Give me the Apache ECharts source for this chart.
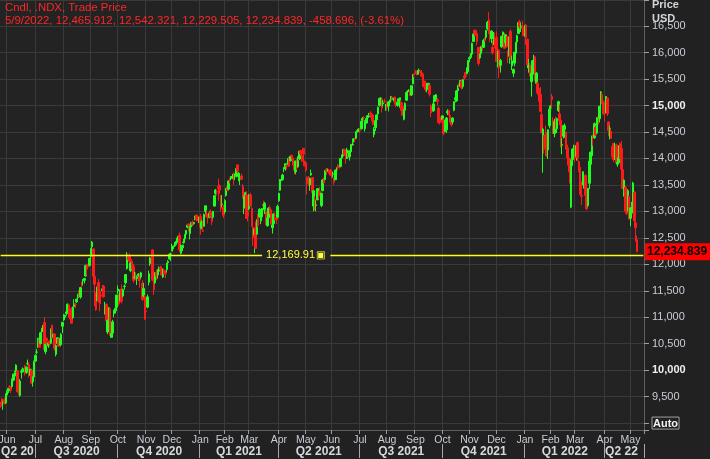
<!DOCTYPE html>
<html><head><meta charset="utf-8">
<script src="https://cdn.jsdelivr.net/npm/echarts@6/dist/echarts.min.js"></script>
<style>html,body{margin:0;padding:0;background:#222;}#c{width:710px;height:459px;}</style>
</head><body><div id="c"></div>
<script>
// ---- data (NDX daily candles, rows are [open, high, low, close]) ----
const firstDay = '2020-05-22', lastDay = '2022-05-09';
const holidays = ['2020-05-25','2020-07-03','2020-09-07','2020-11-26','2020-12-25','2021-01-01','2021-01-18','2021-02-15','2021-04-02','2021-05-31','2021-07-05','2021-09-06','2021-11-25','2021-12-24','2022-01-17','2022-02-21','2022-04-15'];

const q2_2020 = [
[9370,9400,9290,9325],[9460,9475,9320,9340],[9390,9420,9250,9412],[9440,9480,9350,9369],[9380,9560,9360,9555],
[9530,9620,9520,9598],[9610,9655,9570,9653],[9690,9720,9640,9683],[9680,9700,9570,9616],[9690,9845,9670,9824],
[9810,9930,9790,9925],[9890,9990,9880,9953],[9990,10110,9960,10094],[9980,10000,9580,9588],[9800,9840,9520,9681],
[9520,9830,9500,9794],[9960,10000,9840,9980],[10010,10050,9985,10021],[10000,10030,9960,10012],[10080,10100,9900,9946],
[9960,10070,9930,10057],[10120,10200,10090,10131],[10110,10150,9860,9910],[9900,10020,9830,10017],[10000,10010,9740,9757],
[9780,9880,9690,9875],[9870,10180,9860,10157]];

const q3_2020 = [
[10170,10300,10160,10279],[10340,10400,10300,10341],[10440,10610,10420,10604],[10580,10620,10430,10434],[10500,10710,10490,10706],
[10760,10800,10650,10788],[10760,10850,10720,10847],[10900,11000,10380,10391],[10350,10500,10300,10488],[10600,10620,10460,10551],
[10460,10540,10420,10518],[10550,10570,10460,10503],[10510,10790,10490,10768],[10850,10860,10600,10622],[10620,10690,10570,10674],
[10680,10700,10370,10408],[10300,10480,10260,10462],[10500,10620,10490,10612],[10590,10600,10440,10451],[10480,10610,10470,10584],
[10480,10700,10450,10678],[10830,10910,10700,10905],
[10950,11060,10930,11019],[11000,11050,10960,11036],[11070,11110,11030,11100],[11090,11260,11070,11245],[11230,11250,10990,11128],
[11160,11170,10960,11085],[11140,11190,10870,10887],[10990,11200,10970,11190],[11200,11340,11190,11252],[11240,11270,11170,11235],
[11290,11350,11270,11341],[11370,11440,11330,11437],[11450,11510,11380,11413],[11380,11570,11350,11561],[11610,11670,11560,11607],
[11690,11720,11600,11699],[11700,11740,11640,11730],[11780,11990,11770,11975],[12000,12010,11790,11939],[11980,12000,11900,11946],
[11980,12120,11960,12110],
[12150,12300,12090,12292],[12330,12440,12180,12420],[12290,12300,11690,11771],[11770,11880,11210,11623],[11350,11470,11120,11140],
[11320,11580,11300,11556],[11660,11720,11270,11325],[11410,11430,11110,11258],[11420,11500,11360,11394],[11500,11600,11440,11536],
[11590,11610,11370,11385],[11120,11290,11050,11247],[11240,11260,10870,10937],[10720,10950,10680,10939],[11000,11190,10940,11180],
[11160,11180,10650,10660],[10620,10800,10620,10690],[10700,10950,10660,10913],[11070,11140,11000,11118],[11120,11190,11070,11167],
[11190,11420,11150,11418]];

const q4_2020 = [
[11500,11600,11440,11533],[11330,11440,11220,11256],[11310,11530,11300,11518],[11530,11620,11260,11304],[11400,11540,11380,11520],
[11580,11620,11520,11588],[11650,11810,11620,11807],[11920,12230,11900,12166],[12170,12200,12080,12160],[12170,12210,11990,12054],
[11880,12040,11850,12022],[12060,12100,11900,11913],[11960,12000,11650,11695],[11750,11860,11720,11762],[11750,11850,11700,11724],
[11730,11790,11610,11767],[11790,11830,11690,11816],[11760,11830,11560,11701],[11760,11860,11730,11838],[11640,11700,11310,11335],
[11400,11650,11380,11543],[11380,11420,10950,11032],
[11120,11200,10960,11110],[11190,11430,11170,11385],[11660,11880,11600,11822],[12010,12140,11970,12109],[12080,12150,11950,12118],
[12270,12290,11680,11700],[11650,11700,11420,11517],[11650,11850,11630,11835],[11850,11900,11700,11774],[11800,11910,11730,11895],
[11870,11960,11830,11934],[11930,11970,11860,11901],[11910,11960,11790,11796],[11760,11920,11740,11902],[11890,11920,11810,11815],
[11860,11890,11740,11825],[11900,12030,11850,11998],[12030,12080,11990,12054],[12100,12200,12090,12191],[12190,12220,12060,12195],
[12280,12390,12250,12330],[12290,12350,12240,12340],[12350,12420,12330,12350],[12370,12440,12350,12420],[12410,12500,12390,12490],
[12450,12540,12420,12530],[12550,12600,12230,12270],[12210,12370,12190,12350],[12310,12370,12250,12360],[12410,12480,12390,12420],
[12480,12570,12420,12560],[12570,12650,12540,12640],[12700,12750,12680,12740],[12760,12770,12620,12730],[12580,12730,12470,12720],
[12730,12800,12700,12790],[12800,12830,12740,12750],[12770,12800,12750,12790],[12870,12920,12830,12880],[12930,12950,12810,12840],
[12870,12890,12820,12830],[12830,12900,12780,12870]];

const q1_2021 = [
[12910,12950,12560,12694],[12680,12840,12660,12802],[12640,12820,12610,12623],[12720,12960,12710,12939],[13000,13110,12910,13105],
[12950,13020,12880,12902],[12920,12950,12770,12880],[12890,13010,12870,12970],[12990,13040,12900,12902],[12870,12920,12740,12803],
[12890,13010,12860,12999],[13100,13310,13090,13297],[13340,13420,13310,13404],[13370,13410,13300,13366],[13470,13620,13200,13436],
[13480,13510,13330,13404],[13300,13310,13000,13050],[13130,13310,13080,13138],[13080,13120,12870,12925],
[12990,13230,12960,13204],[13300,13440,13280,13404],[13470,13500,13380,13396],[13420,13580,13400,13576],[13620,13640,13530,13592],
[13640,13670,13590,13653],[13620,13710,13620,13660],[13720,13730,13500,13614],[13680,13710,13590,13691],[13660,13810,13640,13808],
[13880,13880,13720,13762],[13620,13740,13570,13722],[13610,13660,13500,13612],[13670,13710,13590,13606],[13470,13520,13240,13249],
[13060,13300,12950,13282],[13200,13370,13100,13352],[13310,13380,12860,12866],[12990,13090,12810,12909],
[13050,13320,13020,13316],[13310,13350,13100,13101],[13060,13080,12720,12720],[12700,12790,12350,12501],[12560,12690,12210,12669],
[12690,12810,12290,12300],[12570,12850,12560,12792],[12920,12960,12700,12734],[12900,13060,12880,13040],[12820,12920,12760,12916],
[12900,13060,12850,13053],[13130,13200,13050,13099],[13030,13180,12950,13151],[13000,13030,12740,12751],[12730,12920,12710,12874],
[12880,13080,12860,13059],[13070,13110,12950,12972],[13030,13050,12750,12756],[12690,12790,12580,12742],[12770,12960,12720,12952],
[12930,12980,12830,12926],[12880,12890,12760,12843],[12890,13130,12880,13092]];

const q2_2021 = [
[13200,13350,13180,13342],[13400,13610,13390,13598],[13590,13650,13580,13599],[13600,13710,13590,13688],[13800,13830,13740,13829],
[13810,13900,13770,13900],[13860,13890,13790,13850],[13890,14000,13880,13996],[14010,14030,13840,13857],[13960,14050,13940,14041],
[14060,14070,13980,14042],[14010,14040,13870,13915],[13930,13940,13700,13786],[13750,13960,13700,13950],[13940,14000,13780,13818],
[13840,14040,13830,13964],[13990,14140,13970,14138],[14150,14160,14050,14090],[14060,14110,13930,13950],[14190,14200,13900,14082],
[13940,13960,13850,13860],
[13920,13930,13740,13778],[13650,13660,13320,13544],[13630,13670,13480,13518],[13500,13640,13390,13622],[13690,13790,13670,13719],
[13640,13650,13350,13358],[13100,13400,13000,13389],[13230,13280,13020,13032],[13110,13210,13000,13124],[13220,13440,13210,13430],
[13350,13380,13230,13335],[13380,13460,13290,13299],[13110,13350,13080,13342],[13390,13610,13380,13593],[13630,13640,13530,13536],
[13600,13780,13590,13761],[13800,13820,13690,13756],[13780,13810,13750,13792],[13780,13800,13710,13742],[13780,13800,13680,13687],
[13750,13760,13620,13682],[13700,13750,13640,13712],[13610,13640,13500,13551],[13600,13790,13590,13780],[13780,13830,13730,13823],
[13870,13890,13780,13838],[13860,13890,13810,13828],[13850,14010,13850,13999],[14010,14070,13980,14069],[14060,14180,14040,14172],
[14170,14180,14050,14072],[14070,14110,13900,14040],[14000,14200,13990,14161],[14100,14160,14020,14031],[14030,14150,13960,14141],
[14130,14270,14100,14253],[14260,14310,14240,14272],[14320,14380,14300,14370],[14380,14390,14310,14360],[14380,14510,14370,14500],
[14510,14550,14490,14528],[14530,14570,14510,14554]];

const q3_2021 = [
[14540,14560,14480,14522],[14560,14710,14550,14705],[14720,14780,14620,14757],[14780,14800,14710,14774],[14560,14720,14510,14675],
[14670,14770,14660,14756],[14770,14820,14740,14806],[14790,14860,14780,14804],[14860,14890,14790,14840],[14840,14850,14700,14777],
[14820,14830,14630,14643],[14450,14590,14400,14555],[14580,14760,14520,14716],[14730,14830,14700,14822],[14840,14980,14830,14967],
[15000,15140,14980,15135],[15110,15160,15070,15141],[15120,15130,14870,14959],[15030,15100,14980,15050],[15080,15130,15040,15075],
[14930,15030,14900,14959],
[15020,15060,14930,14961],[14990,15070,14890,15070],[15060,15110,15040,15079],[15100,15180,15070,15173],[15160,15170,15080,15111],
[15120,15150,15080,15126],[15160,15170,15020,15042],[15070,15080,14970,15004],[15000,15070,14980,15064],[15080,15130,15070,15126],
[15100,15150,14960,15147],[15070,15080,14900,14985],[14980,15050,14810,14815],[14740,14930,14720,14895],[14910,15060,14900,15041],
[15100,15260,15090,15244],[15260,15290,15230,15265],[15280,15310,15260,15285],[15270,15290,15180,15183],[15200,15380,15180,15375],
[15410,15590,15400,15585],[15600,15610,15530,15582],
[15620,15670,15600,15619],[15650,15660,15570,15598],[15590,15670,15580,15653],[15660,15700,15630,15668],[15650,15660,15550,15625],
[15620,15670,15540,15543],[15600,15610,15360,15363],[15460,15470,15300,15347],[15430,15440,15260,15300],[15300,15420,15250,15410],
[15380,15430,15320,15418],[15380,15400,15170,15214],[14980,15020,14780,14882],[14970,15000,14860,14888],[14900,15110,14880,15032],
[15080,15200,15070,15188],[15090,15220,15080,15204],[15110,15140,15000,15079],[14950,14980,14660,14677],[14730,14760,14640,14675],
[14760,14790,14680,14689]];

const q4_2021 = [
[14730,14810,14550,14805],[14730,14760,14440,14471],[14510,14730,14500,14660],[14540,14780,14480,14764],[14860,14930,14820,14895],
[14910,14920,14810,14829],[14810,14880,14680,14686],[14710,14740,14600,14635],[14690,14780,14650,14763],[14910,15080,14890,15073],
[15110,15160,15060,15147],[15090,15290,15070,15277],[15280,15390,15260,15382],[15400,15420,15330,15390],[15360,15480,15350,15473],
[15460,15490,15300,15336],[15360,15500,15320,15489],[15560,15630,15490,15518],[15570,15640,15540,15549],[15600,15720,15590,15713],
[15640,15860,15610,15850],
[15880,15930,15820,15905],[15910,15990,15880,15972],[15970,16190,15920,16177],[16210,16360,16200,16351],[16420,16440,16310,16371],
[16420,16430,16310,16346],[16360,16380,16140,16211],[16100,16110,15750,15793],[15900,15980,15880,15928],[15980,16120,15920,16110],
[16140,16150,16030,16103],[16100,16260,16090,16231],[16260,16290,16210,16230],[16290,16430,16250,16420],[16450,16600,16420,16573],
[16620,16765,16350,16372],[16380,16400,16200,16351],[16260,16420,16180,16408],[16100,16230,15960,15992],[16160,16390,16140,16353],
[16230,16380,16080,16135],
[16290,16400,15830,15832],[15810,16030,15720,15990],[16040,16070,15520,15712],[15760,15880,15620,15851],[16110,16320,16090,16304],
[16300,16400,16220,16386],[16330,16380,16080,16084],[16190,16350,16120,16336],[16300,16310,16090,16117],[15960,16040,15800,15945],
[15930,16320,15790,16301],[16400,16440,15860,15901],[15750,15940,15670,15845],[15610,15700,15540,15680],[15800,16010,15740,16007],
[15990,16200,15950,16195],[16200,16340,16190,16318],[16360,16570,16360,16568],[16590,16620,16450,16488],[16480,16560,16390,16501],
[16480,16600,16430,16457],[16430,16470,16320,16320]];

const q1_2022 = [
[16390,16520,16300,16502],[16520,16540,16150,16280],[16250,16270,15770,15771],[15710,15880,15620,15765],[15760,15800,15550,15592],
[15450,15620,15170,15611],[15590,15860,15520,15847],[15900,15960,15820,15905],[15920,15940,15460,15499],[15420,15630,15390,15612],
[15420,15450,15200,15239],[15320,15370,15070,15083],[15210,15350,14870,14889],[14830,14960,14480,14483],[14360,14580,13730,14554],
[14330,14440,14090,14175],[14450,14620,14040,14186],[14370,14500,14030,14088],[14160,14550,13990,14540],[14620,14950,14570,14930],
[14950,15010,14790,14989],[15170,15220,14950,15110],[14720,14780,14460,14482],[14470,14750,14400,14691],[14710,14790,14560,14581],
[14560,14770,14480,14752],[14900,15090,14880,15073],[14840,15020,14630,14717],[14720,14800,14210,14253],[14250,14380,14080,14264],
[14420,14630,14380,14623],[14550,14660,14390,14616],[14500,14520,14170,14183],[14200,14260,13900,14018],[13970,14150,13740,13871],
[14000,14020,13530,13534],[13080,13980,13060,13964],[13980,14190,13860,14177],[14060,14260,13990,14237],
[14200,14260,13930,14005],[14040,14260,13960,14244],[14300,14320,13950,14008],[13940,13960,13740,13838],[13830,13880,13320,13320],
[13300,13560,13120,13285],[13510,13760,13490,13749],[13600,13640,13430,13602],[13680,13700,13290,13301],[13280,13350,13020,13047],
[13110,13440,13080,13436],[13530,13950,13420,13949],[13890,14130,13850,14119],[14050,14430,13990,14424],[14400,14450,14240,14384],
[14390,14680,14370,14656],[14580,14620,14430,14441],[14480,14780,14460,14771],[14790,14800,14640,14770],[14750,14990,14680,14988],
[15070,15270,14970,15257],[15210,15240,15030,15070],[15060,15090,14830,14838]];

const q2_2022 = [
[14870,14900,14700,14861],[14870,15180,14850,15172],[15140,15150,14800,14843],[14690,14700,14420,14525],[14500,14620,14360,14568],
[14510,14560,14370,14380],[14230,14290,14020,14032],[14200,14290,13930,13975],[13990,14300,13970,14255],[14250,14280,13900,13912],
[13890,14020,13840,13932],[13920,14250,13910,14221],[14280,14300,13990,14087],[14190,14330,13770,13798],[13790,13820,13420,13432],
[13370,13600,13280,13592],[13450,13480,12990,13002],[13070,13270,12930,12962],[13100,13420,13000,13389],[13280,13300,12840,12855],
[12870,13080,12720,13066],[13040,13180,12960,13087],[13080,13560,12960,13535],[13360,13390,12740,12818],[12780,12810,12430,12694],
[12465.912,12542.321,12229.505,12234.839]];

const quarterLabels = ['Q2 20','Q3 2020','Q4 2020','Q1 2021','Q2 2021','Q3 2021','Q4 2021','Q1 2022','Q2 22'];
const monthNames = ['Jan','Feb','Mar','Apr','May','Jun','Jul','Aug','Sep','Oct','Nov','Dec'];
const boldTicks = [10000, 15000];
const autoTick = 9000;
const refLineValue = 12169.91;
const lastClose = 12234.839;
const headerLines = ['Cndl, .NDX, Trade Price', '5/9/2022, 12,465.912, 12,542.321, 12,229.505, 12,234.839, -458.696, (-3.61%)'];
const emptySlots = 5;

// ---- build ----
function tradingDays() {
  const out = [];
  const d = new Date(firstDay + 'T00:00:00Z');
  const end = new Date(lastDay + 'T00:00:00Z');
  while (d <= end) {
    const s = d.toISOString().slice(0, 10);
    const wd = d.getUTCDay();
    if (wd !== 0 && wd !== 6 && holidays.indexOf(s) < 0) out.push(s);
    d.setUTCDate(d.getUTCDate() + 1);
  }
  return out;
}
const dates = tradingDays();
const rows = [].concat(q2_2020, q3_2020, q4_2020, q1_2021, q2_2021, q3_2021, q4_2021, q1_2022, q2_2022);
if (rows.length !== dates.length) console.warn('length mismatch', rows.length, dates.length);
const cats = dates.slice();
for (let i = 1; i <= emptySlots; i++) cats.push('pad-' + i);
const candleData = rows.map(r => [r[0], r[3], r[2], r[1]]);

const monthStart = cats.map((s, i) => i > 0 && i < dates.length && s.slice(0, 7) !== cats[i - 1].slice(0, 7));
const qStartIdx = [];
monthStart.forEach((f, i) => { if (f && [1, 4, 7, 10].indexOf(+cats[i].slice(5, 7)) >= 0) qStartIdx.push(i); });
const bounds = [0].concat(qStartIdx, [dates.length]);
const qMid = {};
for (let k = 0; k < bounds.length - 1; k++) qMid[Math.floor((bounds[k] + bounds[k + 1]) / 2)] = quarterLabels[k];
const qStartSet = {}; qStartIdx.forEach(i => qStartSet[i] = true);

const FONT = '"Liberation Sans", Arial, sans-serif';
const lineEndA = cats[203], lineStartB = cats[256];

const chart = echarts.init(document.getElementById('c'), null, { renderer: 'canvas' });
chart.setOption({
  backgroundColor: '#212121',
  animation: false,
  grid: { left: 0, right: 66, top: 0, bottom: 29, show: true, backgroundColor: '#232323', borderWidth: 0, containLabel: false, outerBoundsMode: 'none' },
  xAxis: [{
    type: 'category', data: cats, boundaryGap: true, position: 'bottom',
    axisLine: { show: true, lineStyle: { color: '#5e5e5e' } },
    axisTick: { show: true, interval: (i) => monthStart[i], length: 4, lineStyle: { color: '#9a9a9a' } },
    axisLabel: { interval: (i) => monthStart[i], formatter: (v) => monthNames[+v.slice(5, 7) - 1], color: '#c8cdd5', fontSize: 10.5, fontFamily: FONT, margin: 5 },
    splitLine: { show: true, interval: (i) => monthStart[i], lineStyle: { color: '#3a3a3a' } }
  }, {
    type: 'category', data: cats, boundaryGap: true, position: 'bottom', offset: 14,
    axisLine: { show: false },
    axisTick: { show: true, interval: (i) => !!qStartSet[i], length: 14, lineStyle: { color: '#a8a8a8' } },
    axisLabel: { interval: (i) => qMid[i] !== undefined, formatter: (v, i) => qMid[i] || '', color: '#d4d9e0', fontSize: 12, fontWeight: 'bold', fontFamily: FONT, margin: 2 },
    splitLine: { show: false }
  }],
  yAxis: {
    type: 'value', position: 'right', min: 8869, max: 16994, splitNumber: 16,
    axisLine: { show: true, lineStyle: { color: '#5e5e5e' } },
    axisTick: { show: true, length: 5, lineStyle: { color: '#a0a0a0' } },
    axisLabel: {
      margin: 8, color: '#c8cdd5', fontSize: 11, fontFamily: FONT,
      formatter: (v) => {
        if (v % 500 !== 0) return '';
        if (v === autoTick) return '{auto|Auto}';
        const s = v.toLocaleString('en-US');
        return boldTicks.indexOf(v) >= 0 ? '{b|' + s + '}' : s;
      },
      rich: {
        b: { fontWeight: 'bold', color: '#eceff3', fontSize: 11, fontFamily: FONT },
        auto: { fontWeight: 'bold', color: '#f0f2f5', fontSize: 11, fontFamily: FONT, borderColor: '#a0a0a0', borderWidth: 1, padding: [1, 1, 0, 1] }
      }
    },
    splitLine: { show: true, lineStyle: { color: '#3a3a3a' } }
  },
  series: [{
    type: 'candlestick', data: candleData, barWidth: 2,
    itemStyle: { color: '#1eff1e', color0: '#ff1a1a', borderColor: '#1eff1e', borderColor0: '#ff1a1a', borderWidth: 1 },
    markLine: {
      symbol: 'none', silent: true, animation: false,
      data: [
        [{ coord: [cats[0], refLineValue], lineStyle: { color: '#ffff1a', width: 1.3, type: 'solid' },
           label: { show: true, position: 'end', distance: 4, formatter: '{v|12,169.91}{i|▣}',
             rich: { v: { color: '#ffff40', fontSize: 11, fontFamily: FONT }, i: { color: '#ffff40', fontSize: 10, padding: [0, 0, 0, 1] } } } },
         { coord: [lineEndA, refLineValue] }],
        [{ coord: [lineStartB, refLineValue], lineStyle: { color: '#ffff1a', width: 1.3, type: 'solid' }, label: { show: false } },
         { coord: [cats[cats.length - 1], refLineValue] }]
      ]
    }
  }, {
    type: 'line', data: [], silent: true,
    markLine: {
      symbol: 'none', silent: true, animation: false,
      lineStyle: { color: 'rgba(0,0,0,0)', width: 1, type: 'solid' },
      data: [{ yAxis: lastClose,
        label: { show: true, position: 'end', distance: 1, formatter: '12,234.839', backgroundColor: '#ff0000', color: '#000000',
          fontWeight: 'bold', fontSize: 12, fontFamily: FONT, padding: [4, 4, 1, 2] } }]
    }
  }],
  graphic: [
    { type: 'text', left: 5, top: 2, z: 100, style: { text: headerLines[0], fill: '#ff2626', font: '11.4px ' + FONT } },
    { type: 'text', left: 5, top: 15, z: 100, style: { text: headerLines[1], fill: '#ff2626', font: '11.4px ' + FONT } },
    { type: 'text', left: 652, top: -1, z: 100, style: { text: 'Price', fill: '#d2d6dc', font: 'bold 11px ' + FONT } },
    { type: 'text', left: 652, top: 13, z: 100, style: { text: 'USD', fill: '#d2d6dc', font: 'bold 11px ' + FONT } }
  ]
});
</script>
</body></html>
